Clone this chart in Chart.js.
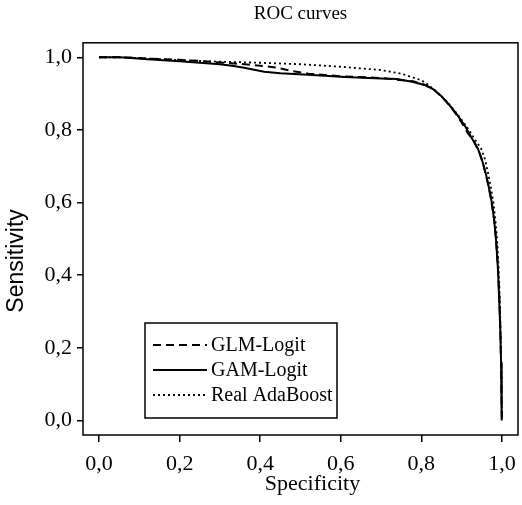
<!DOCTYPE html>
<html>
<head>
<meta charset="utf-8">
<script src="https://cdn.jsdelivr.net/npm/chart.js@4.4.1/dist/chart.umd.min.js"></script>
<style>
  body { margin: 0; background: #fff; }
  #wrap { width: 522px; height: 505px; }
</style>
</head>
<body>
<div id="wrap"><canvas id="roc"></canvas></div>
<script>
// tick labels
var xTicks = [0, 0.2, 0.4, 0.6, 0.8, 1.0];
var yTicks = [0, 0.2, 0.4, 0.6, 0.8, 1.0];
var xTitle = 'Specificity';
var yTitle = 'Sensitivity';

// GLM-Logit (dashed)
var glmSpec = [0, 0.05, 0.10, 0.15, 0.20, 0.25, 0.30, 0.35, 0.40, 0.44, 0.48, 0.52, 0.60, 0.70, 0.78, 0.81, 0.83, 0.85, 0.87, 0.89, 0.905, 0.915, 0.93, 0.945, 0.955, 0.965, 0.973, 0.98, 0.985, 0.989, 0.993, 0.996, 0.998, 1.0];
var glmSens = [1.0, 1.0, 0.998, 0.995, 0.993, 0.990, 0.986, 0.982, 0.977, 0.972, 0.962, 0.955, 0.948, 0.943, 0.934, 0.924, 0.912, 0.892, 0.868, 0.838, 0.812, 0.792, 0.770, 0.735, 0.700, 0.655, 0.610, 0.560, 0.505, 0.440, 0.360, 0.260, 0.150, 0.0];

// GAM-Logit (solid)
var gamSpec = [0, 0.05, 0.08, 0.12, 0.16, 0.20, 0.25, 0.30, 0.33, 0.36, 0.41, 0.45, 0.53, 0.61, 0.70, 0.74, 0.78, 0.81, 0.83, 0.85, 0.87, 0.89, 0.91, 0.925, 0.94, 0.95, 0.96, 0.968, 0.975, 0.981, 0.986, 0.990, 0.993, 0.996, 0.998, 0.999, 1.0];
var gamSens = [1.0, 1.0, 0.998, 0.995, 0.992, 0.989, 0.985, 0.981, 0.977, 0.971, 0.960, 0.956, 0.951, 0.946, 0.942, 0.940, 0.932, 0.923, 0.912, 0.893, 0.868, 0.840, 0.808, 0.778, 0.750, 0.720, 0.680, 0.640, 0.600, 0.550, 0.490, 0.420, 0.340, 0.250, 0.160, 0.080, 0.0];

// Real AdaBoost (dotted)
var adaSpec = [0, 0.05, 0.10, 0.15, 0.20, 0.30, 0.40, 0.50, 0.60, 0.70, 0.75, 0.80, 0.82, 0.84, 0.86, 0.88, 0.90, 0.92, 0.935, 0.948, 0.958, 0.966, 0.973, 0.979, 0.984, 0.988, 0.992, 0.995, 0.997, 0.999, 1.0];
var adaSens = [1.0, 1.0, 0.998, 0.995, 0.992, 0.988, 0.985, 0.981, 0.974, 0.965, 0.955, 0.937, 0.922, 0.903, 0.882, 0.857, 0.828, 0.797, 0.770, 0.750, 0.720, 0.680, 0.640, 0.600, 0.550, 0.500, 0.420, 0.330, 0.230, 0.120, 0.0];

function pts(xs, ys) {
    var out = [];
    for (var i = 0; i < xs.length; i++) out.push({ x: xs[i], y: ys[i] });
    return out;
}

function comma(v) {
    return v.toFixed(1).replace('.', ',');
}

var serif = "'Liberation Serif', 'Times New Roman', serif";
var sans = "'Liberation Sans', Arial, sans-serif";

// frame round the plot area
var framePlugin = {
    id: 'frame',
    afterDatasetsDraw: function (chart) {
        var a = chart.chartArea, c = chart.ctx;
        c.save();
        c.strokeStyle = '#000';
        c.lineWidth = 1.5;
        c.strokeRect(a.left, a.top, a.right - a.left, a.bottom - a.top);
        c.restore();
    }
};

// axis titles (placed a bit off-centre, as in the original)
var axisTitles = {
    id: 'axisTitles',
    afterDraw: function (chart) {
        var a = chart.chartArea, c = chart.ctx;
        c.save();
        c.fillStyle = '#000';
        c.textAlign = 'center';
        c.textBaseline = 'middle';
        c.font = '22px ' + serif;
        c.fillText(xTitle, (a.left + a.right) / 2 + 12, a.bottom + 49);
        c.translate(17, (a.top + a.bottom) / 2 + 22);
        c.rotate(-Math.PI / 2);
        c.font = '23px ' + sans;
        c.fillText(yTitle, 0, 0);
        c.restore();
    }
};

// boxed legend inside the plot, lower left
var boxLegend = {
    id: 'boxLegend',
    afterDraw: function (chart) {
        var a = chart.chartArea, c = chart.ctx;
        var x0 = a.left + 62, y0 = a.bottom - 112, w = 192, h = 95;
        c.save();
        c.fillStyle = '#fff';
        c.fillRect(x0, y0, w, h);
        c.strokeStyle = '#000';
        c.lineWidth = 1.5;
        c.strokeRect(x0, y0, w, h);
        c.font = '20px ' + serif;
        c.textBaseline = 'middle';
        c.fillStyle = '#000';
        chart.data.datasets.forEach(function (ds, i) {
            var yy = y0 + 22 + i * 25;
            c.beginPath();
            c.setLineDash(ds.borderDash || []);
            c.lineWidth = ds.borderWidth;
            c.moveTo(x0 + 8, yy);
            c.lineTo(x0 + 62, yy);
            c.stroke();
            c.setLineDash([]);
            c.fillText(ds.label, x0 + 66, yy + 1);
        });
        c.restore();
    }
};

new Chart(document.getElementById('roc'), {
    type: 'scatter',
    data: {
        datasets: [{
            label: 'GLM-Logit',
            data: pts(glmSpec, glmSens),
            showLine: true,
            borderColor: '#000',
            borderWidth: 2,
            borderDash: [8, 5],
            pointRadius: 0
        }, {
            label: 'GAM-Logit',
            data: pts(gamSpec, gamSens),
            showLine: true,
            borderColor: '#000',
            borderWidth: 2,
            pointRadius: 0
        }, {
            label: 'Real AdaBoost',
            data: pts(adaSpec, adaSens),
            showLine: true,
            borderColor: '#000',
            borderWidth: 1.8,
            borderDash: [2, 3],
            pointRadius: 0
        }]
    },
    options: {
        responsive: true,
        maintainAspectRatio: false,
        animation: false,
        layout: { padding: { left: 0, right: 4, top: 0, bottom: 0 } },
        plugins: {
            legend: { display: false },
            tooltip: { enabled: false },
            title: {
                display: true,
                fullSize: false,
                text: 'ROC curves',
                color: '#000',
                font: { family: serif, size: 19, weight: 'normal' },
                padding: { top: 3, bottom: 17 }
            }
        },
        scales: {
            x: {
                type: 'linear',
                min: -0.04,
                max: 1.04,
                afterBuildTicks: function (s) { s.ticks = xTicks.map(function (v) { return { value: v }; }); },
                afterFit: function (s) { s.height = 70; s.paddingLeft = 0; s.paddingRight = 0; },
                border: { display: false },
                grid: { drawOnChartArea: false, drawTicks: true, tickLength: 7, color: '#000', lineWidth: 1.5 },
                ticks: {
                    color: '#000',
                    padding: 9,
                    maxRotation: 0,
                    font: { family: serif, size: 22 },
                    callback: function (v) { return comma(v); }
                }
            },
            y: {
                type: 'linear',
                min: -0.04,
                max: 1.04,
                afterBuildTicks: function (s) { s.ticks = yTicks.map(function (v) { return { value: v }; }); },
                afterFit: function (s) { s.width = 83; s.paddingTop = 0; s.paddingBottom = 0; },
                border: { display: false },
                grid: { drawOnChartArea: false, drawTicks: true, tickLength: 6, color: '#000', lineWidth: 1.5 },
                ticks: {
                    color: '#000',
                    padding: 5,
                    font: { family: serif, size: 22 },
                    callback: function (v) { return comma(v); }
                }
            }
        }
    },
    plugins: [framePlugin, axisTitles, boxLegend]
});
</script>
</body>
</html>
